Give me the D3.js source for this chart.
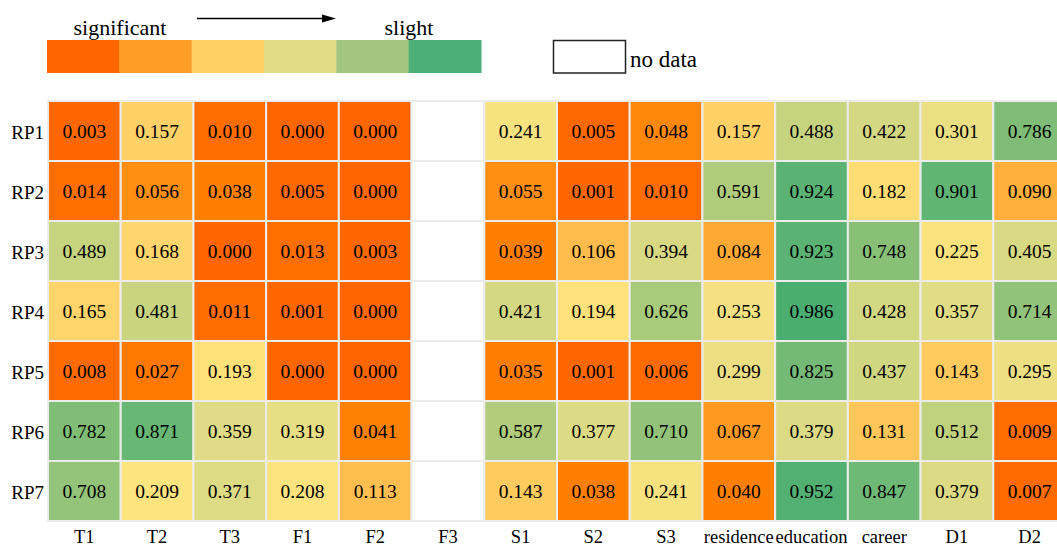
<!DOCTYPE html>
<html>
<head>
<meta charset="utf-8">
<script src="https://cdn.jsdelivr.net/npm/d3@7"></script>
<style>
    body { margin: 0; background: #fff; }
    svg text { font-family: "Liberation Serif", "DejaVu Serif", serif; fill: #000; }
</style>
</head>
<body>
<div id="heatmap"></div>
<script>
// row / column labels
const rowLabels = ["RP1", "RP2", "RP3", "RP4", "RP5", "RP6", "RP7"];
const colLabels = ["T1", "T2", "T3", "F1", "F2", "F3", "S1", "S2", "S3", "residence", "education", "career", "D1", "D2"];

// p-values per row (null = no data)
const rp1 = [0.003, 0.157, 0.010, 0.000, 0.000, null, 0.241, 0.005, 0.048, 0.157, 0.488, 0.422, 0.301, 0.786];
const rp2 = [0.014, 0.056, 0.038, 0.005, 0.000, null, 0.055, 0.001, 0.010, 0.591, 0.924, 0.182, 0.901, 0.090];
const rp3 = [0.489, 0.168, 0.000, 0.013, 0.003, null, 0.039, 0.106, 0.394, 0.084, 0.923, 0.748, 0.225, 0.405];
const rp4 = [0.165, 0.481, 0.011, 0.001, 0.000, null, 0.421, 0.194, 0.626, 0.253, 0.986, 0.428, 0.357, 0.714];
const rp5 = [0.008, 0.027, 0.193, 0.000, 0.000, null, 0.035, 0.001, 0.006, 0.299, 0.825, 0.437, 0.143, 0.295];
const rp6 = [0.782, 0.871, 0.359, 0.319, 0.041, null, 0.587, 0.377, 0.710, 0.067, 0.379, 0.131, 0.512, 0.009];
const rp7 = [0.708, 0.209, 0.371, 0.208, 0.113, null, 0.143, 0.038, 0.241, 0.040, 0.952, 0.847, 0.379, 0.007];
const rowValues = [rp1, rp2, rp3, rp4, rp5, rp6, rp7];

// legend swatches
const legendColors = ["#FF6600", "#FF9E26", "#FFD066", "#E1DD86", "#A2C67E", "#4AB077"];

// colour ramp for cells
const colorStops = [0, 0.04, 0.1, 0.2, 0.35, 0.5, 0.7, 1];
const colorRamp = ["#FF6600", "#FF8000", "#FFB848", "#FFE47E", "#E2DC86", "#C4D37E", "#96C47A", "#45AD70"];

const serif = "'Liberation Serif', 'DejaVu Serif', serif";

class HeatmapVis {
    constructor(_parentElement) {
        this.parentElement = _parentElement;
        this.initVis();
    }

    initVis() {
        const vis = this;

        vis.width = 1057;
        vis.height = 545;

        vis.svg = d3.select(`#${vis.parentElement}`)
            .append("svg")
            .attr("width", vis.width)
            .attr("height", vis.height)
            .attr("font-family", serif);

        // scales
        vis.x = d3.scaleBand().domain(colLabels).range([48, 1066]);
        vis.y = d3.scaleBand().domain(rowLabels).range([101, 521]);
        vis.color = d3.scaleLinear().domain(colorStops).range(colorRamp).interpolate(d3.interpolateRgb);

        // flatten values into cells
        vis.cells = [];
        rowValues.forEach((vals, i) => {
            vals.forEach((v, j) => {
                vis.cells.push({ row: rowLabels[i], col: colLabels[j], value: v });
            });
        });

        vis.drawLegend();
        vis.updateVis();
    }

    drawLegend() {
        const vis = this;
        const lx = d3.scaleBand().domain(d3.range(legendColors.length)).range([47, 481]);

        vis.svg.selectAll(".legend-box")
            .data(legendColors)
            .enter()
            .append("rect")
            .attr("class", "legend-box")
            .attr("x", (d, i) => lx(i))
            .attr("y", 40)
            .attr("width", lx.bandwidth() + 0.5)
            .attr("height", 33)
            .attr("fill", d => d);

        vis.svg.append("text")
            .attr("x", 120)
            .attr("y", 35)
            .attr("text-anchor", "middle")
            .attr("font-size", "22px")
            .text("significant");

        vis.svg.append("text")
            .attr("x", 409)
            .attr("y", 35)
            .attr("text-anchor", "middle")
            .attr("font-size", "22px")
            .text("slight");

        // arrow
        vis.svg.append("line")
            .attr("x1", 197)
            .attr("x2", 324)
            .attr("y1", 18.5)
            .attr("y2", 18.5)
            .attr("stroke", "#000")
            .attr("stroke-width", 1.3);

        vis.svg.append("path")
            .attr("d", "M322,14.5 L336,18.5 L322,22.5 Z")
            .attr("fill", "#000");

        // no data box
        vis.svg.append("rect")
            .attr("x", 553.5)
            .attr("y", 40.5)
            .attr("width", 72)
            .attr("height", 32.5)
            .attr("fill", "#fff")
            .attr("stroke", "#222")
            .attr("stroke-width", 1.5);

        vis.svg.append("text")
            .attr("x", 630)
            .attr("y", 67)
            .attr("font-size", "23px")
            .text("no data");
    }

    updateVis() {
        const vis = this;

        // cells
        vis.svg.selectAll(".cell")
            .data(vis.cells)
            .enter()
            .append("rect")
            .attr("class", "cell")
            .attr("x", d => vis.x(d.col))
            .attr("y", d => vis.y(d.row))
            .attr("width", vis.x.bandwidth())
            .attr("height", vis.y.bandwidth())
            .attr("fill", d => d.value === null ? "#fff" : vis.color(d.value))
            .attr("stroke", "#ECECEC")
            .attr("stroke-width", 2);

        // cell values
        vis.svg.selectAll(".cell-label")
            .data(vis.cells.filter(d => d.value !== null))
            .enter()
            .append("text")
            .attr("class", "cell-label")
            .attr("x", d => vis.x(d.col) + vis.x.bandwidth() / 2)
            .attr("y", d => vis.y(d.row) + vis.y.bandwidth() / 2 + 7)
            .attr("text-anchor", "middle")
            .attr("font-size", "19.5px")
            .text(d => d.value.toFixed(3));

        // row labels
        vis.svg.selectAll(".row-label")
            .data(rowLabels)
            .enter()
            .append("text")
            .attr("class", "row-label")
            .attr("x", 44)
            .attr("y", d => vis.y(d) + vis.y.bandwidth() / 2 + 7.5)
            .attr("text-anchor", "end")
            .attr("font-size", "19px")
            .text(d => d);

        // column labels
        vis.svg.selectAll(".col-label")
            .data(colLabels)
            .enter()
            .append("text")
            .attr("class", "col-label")
            .attr("x", d => vis.x(d) + vis.x.bandwidth() / 2)
            .attr("y", 542.5)
            .attr("text-anchor", "middle")
            .attr("font-size", "18.5px")
            .text(d => d);
    }
}

new HeatmapVis("heatmap");
</script>
</body>
</html>
